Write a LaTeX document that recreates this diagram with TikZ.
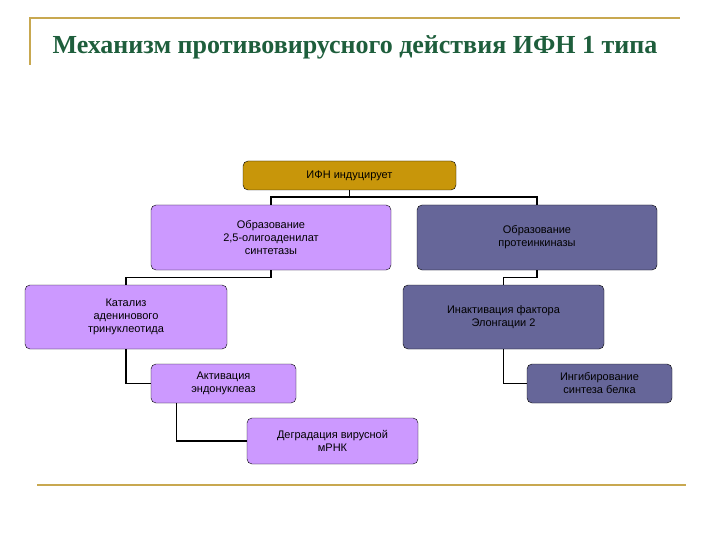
\documentclass[tikz,border=0pt]{standalone}
\usepackage{fontspec}
\setmainfont{Liberation Serif}
\newfontfamily\boxfont{Liberation Sans}
\definecolor{gold}{HTML}{C8960A}
\definecolor{lav}{HTML}{CC99FF}
\definecolor{slate}{HTML}{666699}
\definecolor{rule}{HTML}{C8A850}
\definecolor{ttl}{HTML}{1E5E3C}
\tikzset{
 bx/.style={draw=black,rounded corners=5pt,align=center,font=\boxfont\fontsize{11}{13}\selectfont,inner sep=0pt},
 ln/.style={draw=black,line width=1.4pt}
}
\begin{document}
\begin{tikzpicture}[x=1pt,y=-1pt]
\useasboundingbox (0,0) rectangle (720,540);
\draw[rule,line width=2pt] (30,65) -- (30,18) -- (680,18);
\draw[rule,line width=2.5pt] (37,485) -- (686,485);
\node[text=ttl,font=\bfseries\fontsize{26}{30}\selectfont] (t) at (355,47) {Механизм противовирусного действия ИФН 1 типа};
\newcommand\bxn[7]{\node[bx,fill=#6,minimum width=#4-#2,minimum height=#5-#3] (#1) at ({(#2+#4)/2},{(#3+#5)/2}) {#7};}
\bxn{top}{243}{161}{456}{190}{gold}{ИФН индуцирует}
\bxn{a}{151}{205}{391}{270}{lav}{Образование\\2,5-олигоаденилат\\синтетазы}
\bxn{b}{417}{205}{657}{270}{slate}{Образование\\протеинкиназы}
\bxn{c}{25}{285}{227}{349}{lav}{Катализ\\аденинового\\тринуклеотида}
\bxn{d}{403}{285}{604}{349}{slate}{Инактивация фактора\\Элонгации 2}
\bxn{e}{151}{364}{296}{403}{lav}{Активация\\эндонуклеаз}
\bxn{f}{527}{364}{672}{403}{slate}{Ингибирование\\синтеза белка}
\bxn{g}{247}{418}{418}{464}{lav}{Деградация вирусной\\мРНК}
\draw[ln] (top.south) -- ++(0,7) -| (a.north);
\draw[ln] (top.south) -- ++(0,7) -| (b.north);
\draw[ln] (a.south) -- ++(0,7) -| (c.north);
\draw[ln] (b.south) -- ++(0,7) -| (d.north);
\draw[ln] (c.south) |- (e.west);
\draw[ln] (d.south) |- (f.west);
\draw[ln] ([xshift=-47pt]e.south) |- (g.west);
\end{tikzpicture}
\end{document}
